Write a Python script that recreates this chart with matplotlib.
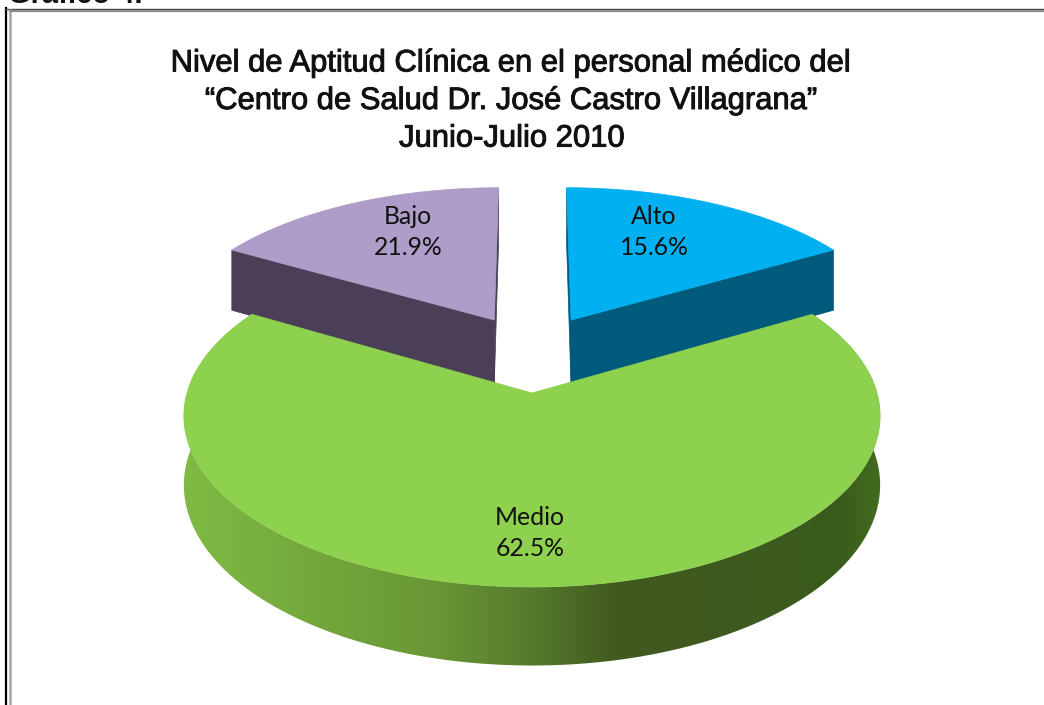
import numpy as np
import matplotlib
matplotlib.use("Agg")
import matplotlib.pyplot as plt
import matplotlib.patheffects as pe
from matplotlib.colors import LinearSegmentedColormap
from matplotlib.patches import PathPatch, Polygon
from matplotlib.path import Path

# lo que dicen las etiquetas
categorias = ["Alto", "Medio", "Bajo"]
porcentajes = [15.6, 62.5, 21.9]
# lo que se ve dibujado: las rebanadas no siguen las etiquetas
partes_dibujadas = [16.67, 66.66, 16.67]

titulo = ("Nivel de Aptitud Clínica en el personal médico del\n"
          "“Centro de Salud Dr. José Castro Villagrana”\n"
          "Junio-Julio 2010")

colores_top = {"Alto": "#00b0f0", "Medio": "#8ed14f", "Bajo": "#ae9dc8"}
colores_lado = {"Alto": "#005a7c", "Medio": "#5f8a30", "Bajo": "#4a3f57"}
desplaza = {"Alto": (0.12, -0.461), "Medio": (0.0, 0.0), "Bajo": (-0.116, -0.461)}
pos_texto = {"Alto": (654, 232), "Medio": (530, 533), "Bajo": (408, 232)}

# camara de la torta 3D, en pixeles
cx, cy = 532, 393
fx, fy, prof, alto = 345, 168, 0.134, 68


def proyecta(xw, zw, h=0.0):
    s = 1 / (1 - prof * zw)
    return cx + fx * xw * s, cy + fy * zw * s + alto * h * s


def borde(theta, nombre, h=0.0):
    ex, ez = desplaza[nombre]
    return proyecta(ex + np.sin(theta), ez + np.cos(theta), h)


def centro(nombre, h=0.0):
    ex, ez = desplaza[nombre]
    return proyecta(ex, ez, h)


# angulos medidos desde el frente (abajo)
ang = np.radians(np.array(partes_dibujadas) * 3.6)
rangos = {
    "Medio": (-ang[1] / 2, ang[1] / 2),
    "Alto": (ang[1] / 2, ang[1] / 2 + ang[0]),
    "Bajo": (-ang[1] / 2 - ang[2], -ang[1] / 2),
}

fig = plt.figure(figsize=(10.44, 7.05), dpi=100)
ax = fig.add_axes([0, 0, 1, 1])
ax.set_xlim(0, 1044)
ax.set_ylim(705, 0)
ax.axis("off")

# marco doble de la tabla
ax.plot([5.5, 5.5], [8, 705], color="black", lw=1.6)
ax.plot([5, 1044], [8.5, 8.5], color="#444444", lw=1.0)
ax.plot([10, 10], [10, 705], color="#a6a6a6", lw=1.8)
ax.plot([10, 1044], [10.5, 10.5], color="#8c8c8c", lw=1.6)
ax.text(8, 3, "Gráfico 4.", fontsize=21, fontweight="bold", family="Liberation Sans",
        va="baseline", ha="left", color="#111111")

# rebanadas de atras
for nombre in ["Alto", "Bajo"]:
    t0, t1 = rangos[nombre]
    t = np.linspace(t0, t1, 80)
    px, py = borde(t, nombre)
    ax0, ay0 = centro(nombre)
    bx0, by0 = centro(nombre, 1)
    # caras de corte
    for th in (t0, t1):
        ex, ey = borde(th, nombre)
        fx2, fy2 = borde(th, nombre, 1)
        ax.add_patch(Polygon([(ax0, ay0), (ex, ey), (fx2, fy2), (bx0, by0)],
                             closed=True, fc=colores_lado[nombre], ec=colores_lado[nombre], lw=0.5))
    ax.add_patch(Polygon(np.vstack([[ax0, ay0], np.column_stack([px, py])]),
                         closed=True, fc=colores_top[nombre], ec=colores_top[nombre], lw=0.5))

# lado curvo de la rebanada grande, con degradado
t0, t1 = rangos["Medio"]
t = np.linspace(t0, t1, 300)
sx, sy = borde(t, "Medio")
bx, by = borde(t, "Medio", 1)
verts = np.vstack([np.column_stack([sx, sy]), np.column_stack([bx, by])[::-1], [[sx[0], sy[0]]]])
lado = PathPatch(Path(verts), fc="none", ec="none")
ax.add_patch(lado)
grad = LinearSegmentedColormap.from_list("lado", [
    (0.00, "#7fbb44"), (0.22, "#72a43b"), (0.36, "#6a9736"), (0.50, "#557a2c"),
    (0.62, "#41591f"), (0.80, "#3e5a20"), (0.93, "#3a5a1c"), (1.00, "#426d1f")])
img = ax.imshow(np.linspace(0, 1, 256).reshape(1, -1), cmap=grad, aspect="auto",
                extent=(sx.min() - 5, sx.max() + 5, by.max() + 5, sy.min() - 5), zorder=2)
img.set_clip_path(lado)
ax.set_xlim(0, 1044)
ax.set_ylim(705, 0)

# cara de arriba de la grande
px, py = borde(t, "Medio")
ax0, ay0 = centro("Medio")
ax.add_patch(Polygon(np.vstack([[ax0, ay0], np.column_stack([px, py])]), closed=True,
                     fc=colores_top["Medio"], ec=colores_top["Medio"], lw=0.5, zorder=3))

for nombre, pct in zip(categorias, porcentajes):
    x, y = pos_texto[nombre]
    ax.text(x, y, f"{nombre}\n{pct}%", ha="center", va="center", fontsize=17.8,
            family="Lato", linespacing=1.42, color="#111111", zorder=5)

ax.text(512, 101, titulo, ha="center", va="center", fontsize=22.3, family="Liberation Sans",
        linespacing=1.33, color="#111111", zorder=5,
        path_effects=[pe.withStroke(linewidth=0.7, foreground="#111111")])

fig.savefig("out.png", dpi=100)
